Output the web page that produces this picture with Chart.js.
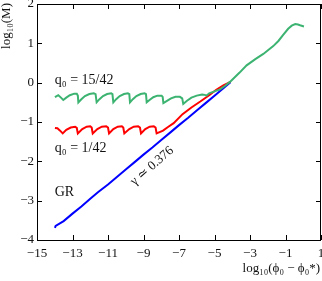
<!DOCTYPE html>
<html>
<head>
<meta charset="utf-8">
<script src="https://cdn.jsdelivr.net/npm/chart.js@4.4.0/dist/chart.umd.min.js"></script>
<style>
  html, body { margin: 0; padding: 0; background: #fff; }
  #wrap { width: 322px; height: 281px; }
</style>
</head>
<body>
<div id="wrap"><canvas id="c" width="322" height="281"></canvas></div>
<script>
// GR run (blue)
const grX = [-13.99, -13.95, -13.5, -13, -12.5, -12, -11.55, -11, -10.5, -10, -9.5, -9, -8.5, -8, -7.5, -7, -6.5, -6, -5.5, -5, -4.5, -4.1];
const grY = [-3.69, -3.64, -3.52, -3.33, -3.15, -2.95, -2.78, -2.59, -2.40, -2.21, -2.02, -1.83, -1.65, -1.46, -1.27, -1.08, -0.90, -0.71, -0.52, -0.33, -0.14, 0.01];

// q0 = 1/42 (red)
const q1X = [-13.99, -13.85, -13.7, -13.55, -13.35, -13.1, -12.85, -12.76, -12.7,
  -12.45, -12.2, -12.0, -11.92, -11.86,
  -11.6, -11.35, -11.1, -11.0, -10.94,
  -10.7, -10.45, -10.22, -10.14, -10.08,
  -9.8, -9.55, -9.3, -9.2, -9.14,
  -8.9, -8.65, -8.42, -8.32, -8.26,
  -7.9, -7.6, -7.3, -6.8, -6.3, -5.8, -5.3, -4.9, -4.5, -4.1];
const q1Y = [-1.15, -1.16, -1.22, -1.29, -1.2, -1.14, -1.12, -1.15, -1.29,
  -1.18, -1.12, -1.11, -1.14, -1.29,
  -1.18, -1.12, -1.11, -1.14, -1.29,
  -1.18, -1.12, -1.11, -1.14, -1.29,
  -1.18, -1.12, -1.11, -1.14, -1.29,
  -1.18, -1.12, -1.11, -1.14, -1.29,
  -1.22, -1.12, -1.03, -0.8, -0.63, -0.48, -0.32, -0.18, -0.07, 0.02];

// q0 = 15/42 (green)
const q15X = [-13.99, -13.8, -13.65, -13.52, -13.35, -13.15, -12.9, -12.76, -12.7, -12.67,
  -12.5, -12.3, -12.05, -11.8, -11.7, -11.64,
  -11.48, -11.28, -11.05, -10.82, -10.75, -10.7,
  -10.54, -10.34, -10.1, -9.88, -9.8, -9.76,
  -9.6, -9.4, -9.16, -8.94, -8.86, -8.82,
  -8.66, -8.45, -8.22, -7.98, -7.92, -7.88,
  -7.7, -7.45, -7.2, -6.95, -6.82, -6.76,
  -6.55, -6.3, -6.0, -5.7, -5.55, -5.45, -5.3, -5.0, -4.69, -4.4, -4.13];
const q15Y = [-0.37, -0.32, -0.38, -0.44, -0.38, -0.32, -0.28, -0.28, -0.33, -0.5,
  -0.42, -0.34, -0.29, -0.27, -0.29, -0.5,
  -0.42, -0.34, -0.29, -0.27, -0.29, -0.5,
  -0.42, -0.34, -0.29, -0.27, -0.29, -0.5,
  -0.42, -0.34, -0.29, -0.27, -0.29, -0.5,
  -0.44, -0.37, -0.33, -0.33, -0.36, -0.52,
  -0.47, -0.4, -0.36, -0.36, -0.4, -0.54,
  -0.46, -0.38, -0.33, -0.3, -0.31, -0.33, -0.27, -0.22, -0.17, -0.08, 0.02];

// common part after the curves merge
const tailX = [-3.6, -3.19, -2.7, -2.25, -1.69, -1.4, -1.12, -0.85, -0.65, -0.45, -0.3, -0.18, 0.04];
const tailY = [0.25, 0.44, 0.6, 0.73, 0.93, 1.06, 1.22, 1.37, 1.45, 1.49, 1.48, 1.46, 1.43];

const xTicks = [-15, -13, -11, -9, -7, -5, -3, -1, 1];
const yTicks = [-4, -3, -2, -1, 0, 1, 2];

function pts(xs, ys) {
  return xs.map((x, i) => ({ x: x, y: ys[i] }));
}

const serif = "'Liberation Serif', 'DejaVu Serif', serif";
const minus = v => (v < 0 ? '\u2212' + Math.abs(v) : String(v));

// ticks inward, frame, labels
const decor = {
  id: 'decor',
  afterDraw(chart) {
    const ctx = chart.ctx;
    const a = chart.chartArea;
    const xs = chart.scales.x, ys = chart.scales.y;
    ctx.save();
    ctx.strokeStyle = '#000';
    ctx.lineWidth = 1;
    ctx.beginPath();
    xTicks.forEach(v => {
      const p = Math.round(xs.getPixelForValue(v)) + 0.5;
      ctx.moveTo(p, a.bottom); ctx.lineTo(p, a.bottom - 5);
      ctx.moveTo(p, a.top); ctx.lineTo(p, a.top + 5);
    });
    yTicks.forEach(v => {
      const p = Math.round(ys.getPixelForValue(v)) + 0.5;
      ctx.moveTo(a.left, p); ctx.lineTo(a.left + 5, p);
      ctx.moveTo(a.right, p); ctx.lineTo(a.right - 5, p);
    });
    ctx.stroke();
    ctx.strokeRect(Math.round(a.left) + 0.5, Math.round(a.top) + 0.5,
      Math.round(a.right - a.left) - 1, Math.round(a.bottom - a.top));

    ctx.fillStyle = '#111';
    ctx.font = '14px ' + serif;
    ctx.textBaseline = 'middle';
    ctx.textAlign = 'left';
    ctx.fillText('q\u2080 = 15/42', xs.getPixelForValue(-14), ys.getPixelForValue(0.06));
    ctx.fillText('q\u2080 = 1/42', xs.getPixelForValue(-14), ys.getPixelForValue(-1.68));
    ctx.fillText('GR', xs.getPixelForValue(-14), ys.getPixelForValue(-2.78));

    ctx.save();
    ctx.translate(xs.getPixelForValue(-8.52), ys.getPixelForValue(-2.12));
    ctx.rotate(-41 * Math.PI / 180);
    ctx.textAlign = 'center';
    ctx.font = '13px ' + serif;
    ctx.fillText('\u03b3 \u2243 0.376', 0, 0);
    ctx.restore();

    // axis titles
    ctx.font = '13px ' + serif;
    ctx.save();
    ctx.translate(7, a.top - 1);
    ctx.rotate(-Math.PI / 2);
    ctx.textAlign = 'right';
    ctx.fillText('log\u2081\u2080(M)', 0, 0);
    ctx.restore();

    ctx.textAlign = 'right';
    ctx.fillText('log\u2081\u2080(\u03d5\u2080 \u2212 \u03d5\u2080*)', a.right - 1, 269);
    ctx.restore();
  }
};

const line = (data, color, order) => ({
  data: data,
  borderColor: color,
  borderWidth: 2,
  pointRadius: 0,
  fill: false,
  tension: 0,
  order: order
});

new Chart(document.getElementById('c'), {
  type: 'line',
  data: {
    datasets: [
      line(pts(q15X.concat(tailX), q15Y.concat(tailY)), '#3cb371', 0),
      line(pts(q1X, q1Y), '#ff0000', 1),
      line(pts(grX, grY), '#0000ff', 2)
    ]
  },
  options: {
    responsive: false,
    animation: false,
    devicePixelRatio: 1,
    layout: { padding: { top: 4, right: 1, left: 0, bottom: 0 } },
    plugins: { legend: { display: false }, tooltip: { enabled: false } },
    scales: {
      x: {
        type: 'linear',
        min: -15, max: 1,
        grid: { display: false, drawTicks: false },
        border: { display: false },
        afterBuildTicks: s => { s.ticks = xTicks.map(v => ({ value: v })); },
        afterFit: s => { s.height = 41; s.paddingLeft = 0; s.paddingRight = 0; },
        ticks: {
          padding: 6,
          color: '#111',
          font: { family: serif, size: 13 },
          maxRotation: 0,
          autoSkip: false,
          callback: v => minus(v)
        }
      },
      y: {
        type: 'linear',
        min: -4, max: 2,
        grid: { display: false, drawTicks: false },
        border: { display: false },
        afterBuildTicks: s => { s.ticks = yTicks.map(v => ({ value: v })); },
        afterFit: s => { s.width = 37; s.paddingTop = 0; s.paddingBottom = 0; },
        ticks: {
          padding: 3,
          color: '#111',
          font: { family: serif, size: 13 },
          callback: v => minus(v)
        }
      }
    }
  },
  plugins: [decor]
});
</script>
</body>
</html>
